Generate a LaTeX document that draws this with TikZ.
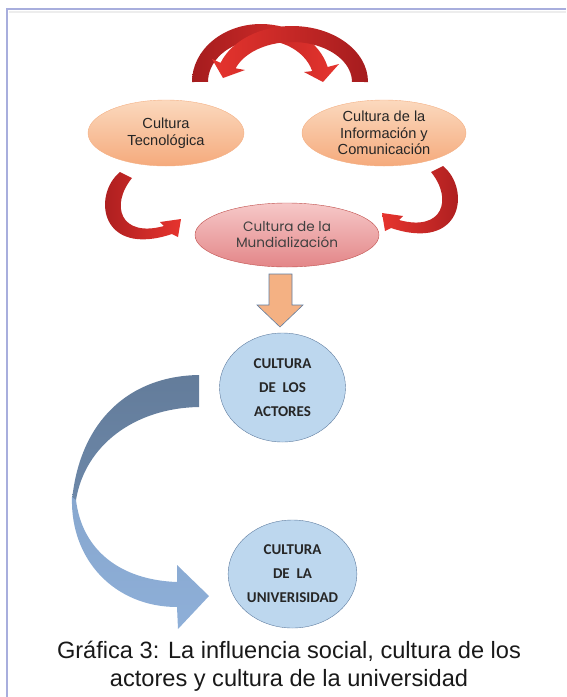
\documentclass[tikz,border=0pt]{standalone}
\usepackage{fontspec}
\setmainfont{Liberation Sans}
\newfontfamily\gothfont{Poppins}
\newfontfamily\calfont{Carlito}
\usetikzlibrary{shapes.geometric}
\definecolor{framelilac}{RGB}{168,174,221}
\definecolor{peachtop}{RGB}{251,217,190}
\definecolor{peachbot}{RGB}{245,170,124}
\definecolor{peachline}{RGB}{244,176,132}
\definecolor{rosetop}{RGB}{246,200,200}
\definecolor{rosebot}{RGB}{227,134,136}
\definecolor{roseline}{RGB}{192,80,77}
\definecolor{skyfill}{RGB}{189,215,238}
\definecolor{skyline}{RGB}{96,125,160}
\definecolor{arcdark}{RGB}{165,28,30}
\definecolor{arcbright}{RGB}{230,52,46}
\definecolor{orangefill}{RGB}{244,177,131}
\definecolor{slateblue}{RGB}{108,135,168}
\definecolor{paleblue}{RGB}{142,175,216}

\begin{document}
\begin{tikzpicture}[
  x=1pt, y=-1pt,
  peach/.style={
    ellipse,
    draw=peachline,
    top color=peachtop,
    bottom color=peachbot,
    inner sep=0pt,
    align=center,
    text=black!85,
    font=\fontsize{14.6}{16.5}\selectfont
  },
  rose/.style={
    ellipse,
    draw=roseline,
    top color=rosetop,
    bottom color=rosebot,
    inner sep=0pt,
    align=center,
    text=black!75,
    font=\gothfont\fontsize{13.6}{16}\selectfont
  },
  disc/.style={
    ellipse,
    draw=skyline,
    fill=skyfill,
    inner sep=0pt,
    align=center,
    text=black!85,
    font=\calfont\bfseries\fontsize{15}{24}\selectfont
  },
  redband/.style={left color=arcdark, right color=arcbright},
  blueband/.style={top color=slateblue!92!black, bottom color=slateblue}
]
\useasboundingbox (0,0) rectangle (566,697);
\draw[black!7, line width=2pt] (9,11.5) -- (566,11.5);
\draw[framelilac, line width=2pt] (7,697) -- (7,9) -- (566,9);

\node[peach, minimum width=156pt, minimum height=66pt] (tec) at (166,133) {Cultura\\Tecnológica};
\node[peach, minimum width=164pt, minimum height=66pt] (info) at (384,133) {Cultura de la\\Información y\\Comunicación};
\node[rose, minimum width=184pt, minimum height=64pt] (mund) at (287,235) {Cultura de la\\Mundialización};
\node[disc, minimum width=126pt, minimum height=109pt] (act) at (282.5,387.5) {CULTURA\\DE\ \ LOS\\ACTORES};
\node[disc, minimum width=123pt, minimum height=108pt] (uni) at (292.5,574) {CULTURA\\DE\ \ LA\\UNIVERISIDAD};
\node[align=center, text=black!90, font=\fontsize{23.6}{28}\selectfont] (cap) at (289,666)
{Gráfica 3: La influencia social, cultura de los\\actores y cultura de la universidad};

\shade[redband] (192,82) arc[start angle=180, end angle=345, x radius=69, y radius=58]
  -- (339,64) -- (323,82) -- (304,72) -- (312.2,71.1)
  arc[start angle=345, end angle=180, x radius=53, y radius=42] -- cycle;
\shade[left color=arcbright, right color=arcdark] (368,82) arc[start angle=360, end angle=200, x radius=76, y radius=56]
  -- (212,59) -- (223,78) -- (245,70) -- (235.6,68.3)
  arc[start angle=200, end angle=360, x radius=60, y radius=40] -- cycle;

\shade[redband] (120,172) .. controls (92,195) and (100,258) .. (172,234)
  -- (178,237) -- (181,219) -- (160,222) -- (164,226)
  .. controls (120,238) and (110,205) .. (132,178) -- cycle;
\shade[left color=arcbright, right color=arcdark] (443,166) .. controls (471,189) and (463,252) .. (391,228)
  -- (385,231) -- (382,213) -- (403,216) -- (399,220)
  .. controls (443,232) and (453,199) .. (431,172) -- cycle;

\draw[skyline, fill=orangefill, line width=0.6pt] (269,274) -- (292,274) -- (292,305) -- (303,305)
  -- (280,327) -- (257,305) -- (269,305) -- cycle;

\shade[blueband] (199,375) .. controls (130,376) and (80,420) .. (72,500) -- (76,500)
  .. controls (85,445) and (135,408) .. (199,407) -- cycle;
\shade[top color=paleblue!80!slateblue, bottom color=paleblue] (72,497) .. controls (70,560) and (115,607) .. (177,607)
  -- (178,629) -- (209,596) -- (177,565) -- (177,582)
  .. controls (120,580) and (82,550) .. (76,500) -- cycle;
\end{tikzpicture}
\end{document}
